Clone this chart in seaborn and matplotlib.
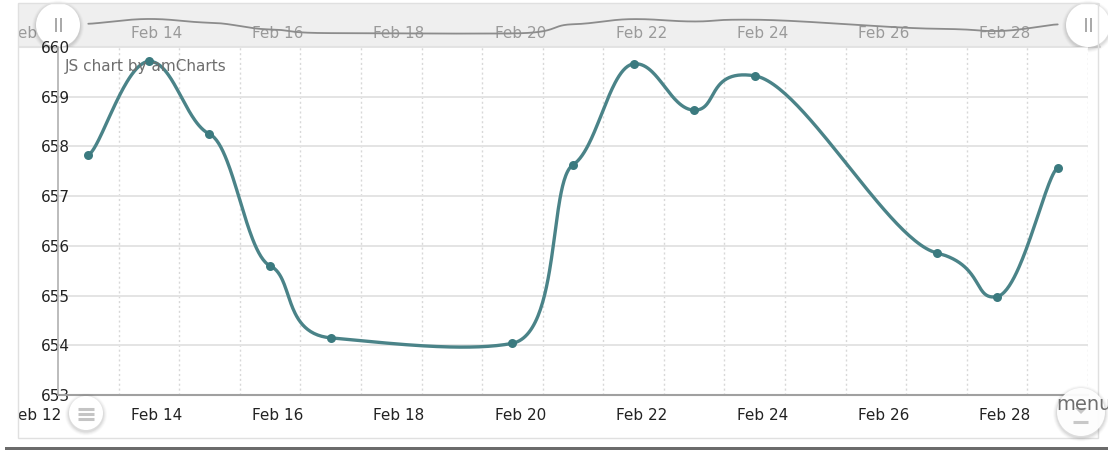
import numpy as np
import pandas as pd
import matplotlib
matplotlib.use("Agg")
import matplotlib.pyplot as plt
import matplotlib.transforms as mtrans
from matplotlib.patches import Circle, Rectangle
import seaborn as sns

sns.set_theme(style="white")
plt.rcParams['font.family'] = ['DejaVu Sans']

# ---------------- data ----------------
dates = ["2020-02-13 12:00", "2020-02-14 12:00", "2020-02-15 12:00", "2020-02-16 12:00",
         "2020-02-17 12:00", "2020-02-20 12:00", "2020-02-21 12:00", "2020-02-22 12:00",
         "2020-02-23 12:00", "2020-02-24 12:00", "2020-02-27 12:00", "2020-02-28 12:00",
         "2020-02-29 12:00"]
values = [657.83, 659.71, 658.25, 655.60, 654.15, 654.04, 657.63, 659.66,
          658.73, 659.42, 655.86, 654.98, 657.57]
x_label_dates = ["2020-02-12", "2020-02-14", "2020-02-16", "2020-02-18", "2020-02-20",
                 "2020-02-22", "2020-02-24", "2020-02-26", "2020-02-28"]
x_labels = ["Feb 12", "Feb 14", "Feb 16", "Feb 18", "Feb 20", "Feb 22", "Feb 24",
            "Feb 26", "Feb 28"]
y_ticks = [653, 654, 655, 656, 657, 658, 659, 660]

# ---------------- helpers ----------------
W, H = 1108, 450
ORIGIN = pd.Timestamp("2020-02-01")


def dom(s):
    """fractional day of month"""
    return (pd.to_datetime(s) - ORIGIN) / pd.Timedelta(days=1) + 1


def tension_curve(xs, ys, ax_=0.2, ay_=0.055, n=60):
    pts = np.column_stack([xs, ys]).astype(float)
    N = len(pts)
    a = np.array([ax_, ay_])
    out = [pts[0]]
    t = np.linspace(0, 1, n)[1:, None]
    for i in range(N - 1):
        p0 = pts[i - 1] if i > 0 else pts[i]
        p1, p2 = pts[i], pts[i + 1]
        p3 = pts[i + 2] if i + 2 < N else pts[i + 1]
        c1 = p1 + a * (p2 - p0)
        c2 = p2 - a * (p3 - p1)
        seg = (1 - t) ** 3 * p1 + 3 * (1 - t) ** 2 * t * c1 + 3 * (1 - t) * t ** 2 * c2 + t ** 3 * p2
        out.extend(seg)
    return np.array(out)


def fx(px):
    return px / W


def fy(py):
    return 1 - py / H


PL, PR, PT, PB = 58, 1088, 47, 395
X0, X1 = 13.0, 30.0
PPD = (PR - PL) / (X1 - X0)


def d_of(px):
    return X0 + (px - PL) / PPD


xd = np.array([dom(d) for d in dates])
yv = np.array(values)
curve = tension_curve(xd, yv)
label_x = np.array([dom(d) for d in x_label_dates]) + 0.63

LINE = "#4a8388"
MARK = "#3b7a7f"

fig = plt.figure(figsize=(W / 100, H / 100), dpi=100)
fig.patch.set_facecolor("white")

# ---------------- low overlay (grips) ----------------
ovl = fig.add_axes([0, 0, 1, 1])
ovl.set_xlim(0, W)
ovl.set_ylim(H, 0)
ovl.axis("off")
ovl.set_zorder(2)
ovl.patch.set_alpha(0)

# ---------------- scrollbar ----------------
sb = fig.add_axes([fx(18), fy(47), (1100 - 18) / W, (47 - 3) / H])
sb.set_zorder(1)
sb.set_facecolor("#efefef")
for s in sb.spines.values():
    s.set_visible(False)
sb.spines["bottom"].set_visible(True)
sb.spines["bottom"].set_color("#e2e2e2")
sb.spines["bottom"].set_linewidth(1.5)
sb.set_xlim(d_of(18), d_of(1100))
ppu = (33.5 - 19) / (659.7 - 654.0)
sb.set_ylim(654.0 - (47 - 33.5) / ppu, 659.7 + (19 - 3) / ppu)
sb.set_xticks([])
sb.set_yticks([])
for lx, lab in zip(label_x, x_labels):
    sb.text(lx, (47 - 33.5) / 44, lab, transform=mtrans.blended_transform_factory(sb.transData, sb.transAxes),
            ha="center", va="center", fontsize=11, color="#9a9a9a", clip_on=True)
sns.lineplot(x=curve[:, 0], y=curve[:, 1], ax=sb, color="#8c8c8c", lw=1.3, sort=False,
             estimator=None, zorder=3)
sb.set_xlabel("")
sb.set_ylabel("")

# ---------------- main axes ----------------
ax = fig.add_axes([fx(PL), fy(PB), (PR - PL) / W, (PB - PT) / H])
ax.set_zorder(3)
ax.set_facecolor("white")
sns.lineplot(x=curve[:, 0], y=curve[:, 1], ax=ax, color=LINE, lw=2.4, sort=False,
             estimator=None, zorder=4)
sns.scatterplot(x=xd, y=yv, ax=ax, s=42, color=MARK, edgecolor=MARK, linewidth=0, zorder=5)
ax.set_xlim(X0, X1)
ax.set_ylim(653, 660)
ax.set_xlabel("")
ax.set_ylabel("")

ax.set_yticks(y_ticks)
ax.set_yticklabels([str(v) for v in y_ticks])
ax.tick_params(axis="y", length=0, pad=-8.6, labelsize=11, labelcolor="#222222")
ax.yaxis.grid(True, color="#e4e4e4", lw=1.4)

odd_days = np.arange(15, 30, 2)
even_days = np.arange(14, 31, 2)
ax.set_xticks(odd_days)
ax.set_xticks(even_days, minor=True)
ax.set_xticklabels([])
ax.tick_params(axis="x", which="major", length=5, width=1, color="#a8a8a8", direction="out")
ax.tick_params(axis="x", which="minor", length=0)
ax.xaxis.grid(True, which="both", color="#d8d8d8", lw=1.0, ls=(0, (1.5, 2)))
ax.set_axisbelow(True)

for s in ["top", "right"]:
    ax.spines[s].set_visible(False)
ax.spines["left"].set_color("#b0b0b0")
ax.spines["left"].set_linewidth(1.2)
ax.spines["bottom"].set_color("#a0a0a0")
ax.spines["bottom"].set_linewidth(1.5)

btr = mtrans.blended_transform_factory(ax.transData, ax.transAxes)
for lx, lab in zip(label_x, x_labels):
    ax.text(lx, -(416 - PB) / (PB - PT), lab, transform=btr, ha="center", va="center",
            fontsize=11, color="#222222", clip_on=False)

# ---------------- high overlay ----------------
ov = fig.add_axes([0, 0, 1, 1])
ov.set_xlim(0, W)
ov.set_ylim(H, 0)
ov.axis("off")
ov.set_zorder(10)
ov.patch.set_alpha(0)


def button(axo, cx, cy, r, alpha=1.0):
    for k, a in [(4, 0.02), (3, 0.03), (2, 0.04), (1, 0.05)]:
        axo.add_patch(Circle((cx, cy + 1.5), r + k, color="black", alpha=a, lw=0))
    axo.add_patch(Circle((cx, cy), r, color="white", alpha=alpha, lw=0))


# grips on scrollbar
for cx in (58, 1088):
    button(ovl, cx, 25, 22)
    for dx in (-2.5, 2.5):
        ovl.plot([cx + dx, cx + dx], [18, 32], color="#a8a8a8", lw=1.4, solid_capstyle="butt")

# left white mask
ov.add_patch(Rectangle((0, 0), 17.5, 446, color="white", lw=0))
# container border
ov.add_patch(Rectangle((18, 3), 1080, 435, fill=False, ec="#e0e0e0", lw=1))
# bottom dark bar
ov.add_patch(Rectangle((5, 446.5), W - 5, 4, color="#6b6b6b", lw=0))

# watermark
ov.text(65, 66, "JS chart by amCharts", ha="left", va="center", fontsize=11, color="#6e6e6e")

# menu button bottom-left
button(ov, 86, 413, 17)
for yy in (409, 414, 419):
    ov.plot([78, 94], [yy, yy], color="#c4c4c4", lw=2.2, solid_capstyle="butt")

# export menu bottom-right
button(ov, 1081, 412, 24, alpha=0.95)
ov.plot([1073, 1088], [421.5, 421.5], color="#c8c8c8", lw=2.2, solid_capstyle="butt")
ov.fill([1075, 1087, 1081], [408, 408, 414], color="#c8c8c8", lw=0)
ov.text(1056, 404, "menu", ha="left", va="center", fontsize=14, color="#6e6e6e")

fig.savefig("out.png", dpi=100)
